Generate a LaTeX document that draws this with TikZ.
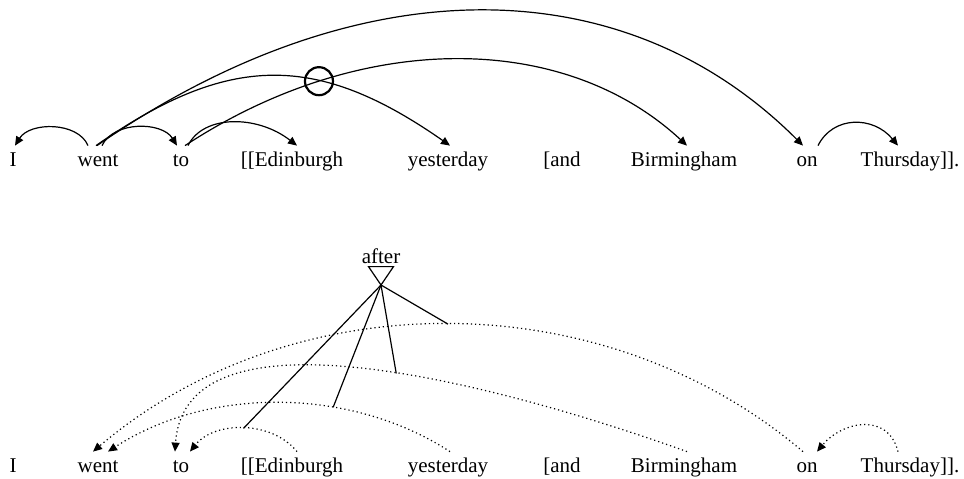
\documentclass[tikz,border=0pt]{standalone}
\usepackage{fontspec}
\setmainfont{Liberation Serif}
\usepackage{tikz}
\usetikzlibrary{arrows.meta, intersections}

\begin{document}
\begin{tikzpicture}[
    x=0.5pt, y=-0.5pt,
    word/.style={
        font=\fontsize{10.5pt}{12pt}\selectfont,
        anchor=base,
        inner xsep=0pt,
        inner ysep=2pt,
        text height=8pt,
        text depth=2.5pt
    },
    tag/.style={
        font=\fontsize{10.5pt}{12pt}\selectfont,
        anchor=base,
        inner sep=0pt
    },
    arc/.style={-{Triangle[length=4.5pt, width=4pt]}, line width=0.6pt},
    dotarc/.style={arc, dash pattern=on 0.6pt off 1.5pt},
    link/.style={line width=0.6pt},
    crossmark/.style={draw, circle, line width=1.1pt, minimum size=14pt, inner sep=0pt}
]
\useasboundingbox (0,0) rectangle (964,478);

% Upper sentence
\node[word] (i1) at (13,166) {I};
\node[word] (went1) at (98,166) {went};
\node[word] (to1) at (181,166) {to};
\node[word] (edin1) at (292,166) {[[Edinburgh};
\node[word] (yest1) at (448,166) {yesterday};
\node[word] (and1) at (562,166) {[and};
\node[word] (birm1) at (684,166) {Birmingham};
\node[word] (on1) at (807,166) {on};
\node[word] (thu1) at (910,166) {Thursday]].};

% Upper dependencies
\draw[arc] ([xshift=-5pt]went1.north) .. controls +(-10,-24) and +(15,-24) .. ([xshift=1pt]i1.north);
\draw[arc] ([xshift=2pt]went1.north) .. controls +(12,-25) and +(-15,-24) .. ([xshift=-2pt]to1.north);
\draw[arc, name path=yestarc] ([xshift=-1pt]went1.north) .. controls +(133,-93) and +(-133,-93) .. ([xshift=1pt]yest1.north);
\draw[arc] ([xshift=-0.5pt]went1.north) .. controls +(260,-180) and +(-180,-180) .. ([xshift=-2pt]on1.north);
\draw[arc, name path=birmarc] ([xshift=2pt]to1.north) .. controls +(175,-115) and +(-124,-115) .. ([xshift=1.5pt]birm1.north);
\draw[arc] ([xshift=3.5pt]to1.north) .. controls +(15,-31) and +(-40,-31) .. ([xshift=2.5pt]edin1.north);
\draw[arc] ([xshift=5.5pt]on1.north) .. controls +(15,-30) and +(-25,-30) .. ([xshift=-6pt]thu1.north);

% Circle on the crossing
\path[name intersections={of=yestarc and birmarc, by=cross}];
\node[crossmark] (circ) at (cross) {};

% Lower sentence
\node[word] (i2) at (13,472) {I};
\node[word] (went2) at (98,472) {went};
\node[word] (to2) at (181,472) {to};
\node[word] (edin2) at (292,472) {[[Edinburgh};
\node[word] (yest2) at (448,472) {yesterday};
\node[word] (and2) at (562,472) {[and};
\node[word] (birm2) at (684,472) {Birmingham};
\node[word] (on2) at (807,472) {on};
\node[word] (thu2) at (910,472) {Thursday]].};

% Lower dependencies - dotted, reversed
\draw[dotarc] ([xshift=-2pt]on2.north) .. controls +(-200,-170) and +(200,-170) .. ([xshift=-2.5pt]went2.north) coordinate[pos=0.5] (onpt);
\draw[dotarc] ([xshift=1.5pt]birm2.north) .. controls +(-187,-67) and +(10,-152) .. ([xshift=-3pt]to2.north) coordinate[pos=0.45] (birmpt);
\draw[dotarc] ([xshift=1pt]yest2.north) .. controls +(-100,-65) and +(100,-65) .. ([xshift=5pt]went2.north) coordinate[pos=0.35] (yestpt);
\draw[dotarc] ([xshift=2.5pt]edin2.north) .. controls +(-25,-31) and +(25,-31) .. ([xshift=4.5pt]to2.north) coordinate[pos=0.5] (edinpt);
\draw[dotarc] ([xshift=-6pt]thu2.north) .. controls +(-10,-40) and +(25,-30) .. ([xshift=5pt]on2.north);

% The "after" triangle and its links
\node[tag] (after) at (381,263) {after};
\coordinate (apex) at (381,285);
\draw[link] ([xshift=-6.25pt,yshift=-1.5pt]after.south) -- ([xshift=6.25pt,yshift=-1.5pt]after.south) -- (apex) -- cycle;
\draw[link] (apex) -- (edinpt);
\draw[link] (apex) -- (yestpt);
\draw[link] (apex) -- (birmpt);
\draw[link] (apex) -- (onpt);

\end{tikzpicture}
\end{document}
